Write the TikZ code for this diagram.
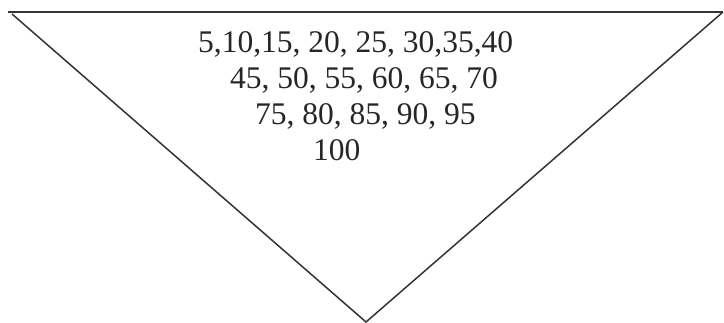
\documentclass[tikz,border=0pt]{standalone}
\usepackage{fontspec}
\setmainfont{Liberation Serif}
\usepackage{tikz}
\usetikzlibrary{positioning}

\begin{document}
\begin{tikzpicture}[x=1pt,y=-1pt,
    numrow/.style={anchor=base west, inner sep=0pt, font=\fontsize{31.5}{36}\selectfont, text=black!85},
    edge/.style={line width=1.5pt, draw=black!80}]
  \useasboundingbox (0,0) rectangle (724,322);
  % corners of the funnel
  \coordinate (topl) at (8,12);
  \coordinate (topr) at (723,12);
  \coordinate (left) at (12,14);
  \coordinate (apex) at (366,322);
  \draw[edge] (topl) -- (topr);
  \draw[edge] (left) -- (apex) -- (topr);
  % numbers
  \node[numrow] (row1) at (198,52) {5,10,15, 20, 25, 30,35,40};
  \node[numrow] (row2) at (230,88) {45, 50, 55, 60, 65, 70};
  \node[numrow] (row3) at (255,124) {75, 80, 85, 90, 95};
  \node[numrow] (row4) at (313,160) {100};
\end{tikzpicture}
\end{document}
